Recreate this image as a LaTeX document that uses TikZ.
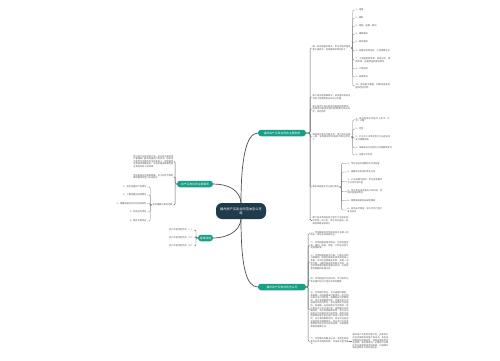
\documentclass[tikz,border=0pt]{standalone}
\usepackage{fontspec}
\setmainfont{Noto Sans CJK SC}
\XeTeXlinebreaklocale "zh"
\XeTeXlinebreakskip = 0pt plus 1pt
\definecolor{cdark}{HTML}{1F3C4C}
\definecolor{cteal}{HTML}{17A085}
\definecolor{txtc}{HTML}{555555}
\definecolor{lkc}{HTML}{5F6B6B}
\definecolor{mainc}{HTML}{4A4F52}
\tikzset{
  txt/.style={font=\fontsize{2.2}{2.6}\selectfont, text=txtc, inner sep=0.4pt, align=left},
  tw/.style={txt, text width=#1},
  central/.style={fill=cdark, text=white, rounded corners=6pt, minimum width=50pt, minimum height=16pt,
    font=\fontsize{3.2}{3.9}\selectfont, align=center, inner sep=1pt},
  teal/.style={fill=cteal, text=white, rounded corners=3pt, minimum height=6.5pt,
    font=\fontsize{2.8}{3}\selectfont, inner sep=1pt},
  lk/.style={draw=lkc, line width=0.45pt, rounded corners=1.2pt},
  sublk/.style={draw=lkc!85, line width=0.35pt, rounded corners=1pt},
  mainlk/.style={draw=mainc, line width=0.7pt},
}
\begin{document}
\begin{tikzpicture}[x=1pt,y=-1pt]
\useasboundingbox[fill=white] (0,0) rectangle (500,360);

% central and main branches
\node[central] (C) at (241,211) {福州房产买卖合同范本怎么写\\呢};
\node[teal, minimum width=48pt] (T1) at (282,133) {福州房产买卖合同的主要条款};
\node[teal, minimum width=36pt] (T2) at (195,184) {房产买卖合同注意事项};
\node[teal, minimum width=15pt] (T3) at (205.5,238) {延伸阅读};
\node[teal, minimum width=48pt] (T4) at (282,287) {福州房产买卖合同怎么写};

\draw[mainlk] (C.north) .. controls (241,160) and (246,133) .. (T1.west);
\draw[mainlk] (C.north) .. controls (240,190) and (228,184) .. (T2.east);
\draw[mainlk] (C.south) .. controls (240,232) and (226,238) .. (T3.east);
\draw[mainlk] (C.south) .. controls (241,265) and (246,287) .. (T4.west);

% ---------- T1 branch ----------
\node[tw=38pt, anchor=west] (A) at (312,48) {第一条房屋基本情况：甲方所售房屋坐落于福州市，该房屋具体情况如下：};
\node[tw=38pt, anchor=west] (B) at (312,97) {第二条房屋权属情况：该房屋所有权证书及土地使用权证书均已办理};
\node[tw=38pt, anchor=west] (Cc) at (312,109) {第三条甲乙双方就该房屋的租赁情况、抵押情况及其他权利限制情况作出约定，详见附件};
\node[tw=38pt, anchor=west] (D) at (312,137) {第四条价格与付款方式：甲乙双方协商一致，该房屋成交价格及付款方式如下：};
\node[txt, anchor=west] (E) at (312,187) {第五条房屋交付与违约责任};
\node[tw=38pt, anchor=west] (F) at (312,220.7) {第六条本合同自双方签字之日起生效，本合同一式三份，甲乙双方各执一份，具有同等法律效力};
\foreach \n in {A,B,Cc,D,E,F} \draw[lk] (T1.east) -- ++(4,0) |- (\n.west);

\node[txt, anchor=west] (a1) at (355,10) {1、坐落};
\node[txt, anchor=west] (a2) at (355,18) {2、面积};
\node[txt, anchor=west] (a3) at (355,26) {3、结构、层数、朝向};
\node[txt, anchor=west] (a4) at (355,34) {4、建筑面积};
\node[txt, anchor=west] (a5) at (355,42) {5、套内面积};
\node[txt, anchor=west] (a6) at (355,51) {6、房屋所有权证号、土地使用证号};
\node[tw=35pt, anchor=west] (a7) at (355,60) {7、土地使用权性质、取得方式、使用年限、房屋用途及其他情况};
\node[txt, anchor=west] (a8) at (355,69) {8、户型结构};
\node[txt, anchor=west] (a9) at (355,77) {9、装修情况};
\node[tw=35pt, anchor=west] (a10) at (355,86) {10、该房屋平面图、附属设施及房屋四至见附件};
\foreach \n in {a1,a2,a3,a4,a5,a6,a7,a8,a9,a10} \draw[sublk] (A.east) -- ++(1.6,0) |- (\n.west);

\node[tw=35pt, anchor=west] (d1) at (355,119.7) {1、该房屋成交价格为人民币（大写）元整};
\node[txt, anchor=west] (d2) at (355,129) {2、定金};
\node[tw=35pt, anchor=west] (d3) at (355,138) {3、乙方应于本合同签订之日起日内支付首期房款};
\node[txt, anchor=west] (d4) at (355,147.7) {4、余款按双方约定的方式及期限支付};
\node[txt, anchor=west] (d5) at (355,155) {5、付款方式约定};
\foreach \n in {d1,d2,d3,d4,d5} \draw[sublk] (D.east) -- ++(1.6,0) |- (\n.west);

\node[txt, anchor=west] (e1) at (347,163.3) {1、甲方应按约定期限交付该房屋};
\node[txt, anchor=west] (e2) at (347,172) {2、逾期交房的违约责任约定};
\node[tw=35pt, anchor=west] (e3) at (347,181.2) {3、乙方逾期付款的，甲方有权要求乙方支付违约金};
\node[tw=35pt, anchor=west] (e4) at (347,191.7) {4、甲方保证该房屋无产权纠纷，否则承担全部责任};
\node[txt, anchor=west] (e5) at (347,200.7) {5、税费按国家有关规定缴纳};
\node[tw=35pt, anchor=west] (e6) at (347,210) {6、其他未尽事宜，双方可另行签订补充协议};
\foreach \n in {e1,e2,e3,e4,e5,e6} \draw[sublk] (E.east) -- ++(2,0) |- (\n.west);

% ---------- T4 branch ----------
\node[tw=38pt, anchor=west] (g1) at (310,233.5) {一、合同首部应写明买卖双方当事人的姓名、身份证号码及住址。};
\node[tw=38pt, anchor=west] (g2) at (310,245.5) {二、写明房屋的基本情况，包括房屋坐落、面积、结构、用途、产权证号及土地使用权等。};
\node[tw=38pt, anchor=west] (g3) at (310,262) {三、写明房屋的成交价格、付款方式和付款期限。房屋价款是买卖合同的核心条款，双方应当明确总价款，采用一次性付款、分期付款或者贷款方式的，应当写明每期付款的金额与时间，以及定金的数额和处理方式。};
\node[tw=38pt, anchor=west] (g4) at (310,280) {四、写明房屋交付的时间、交付条件以及办理产权过户登记手续的期限。};
\node[tw=38pt, anchor=west] (g5) at (310,309.5) {五、写明违约责任。买方逾期付款的，每逾期一日应按照未付款项的一定比例向卖方支付违约金；逾期超过约定期限的，卖方有权解除合同，并要求买方承担相应的违约责任。卖方逾期交付房屋的，每逾期一日应按照已付房款的一定比例向买方支付违约金；逾期超过约定期限的，买方有权解除合同，卖方应当退还已付房款并支付违约金。因卖方原因导致房屋不能办理产权过户登记手续的，买方有权解除合同，卖方应当返还全部房款并赔偿损失。双方还可以约定税费的承担方式以及物业费、水电费等费用的结算办法。};
\node[tw=38pt, anchor=west] (g6) at (310,341.5) {六、写明争议的解决方式、合同生效的条件以及合同的份数，并由双方签字确认。};
\foreach \n in {g1,g2,g3,g4,g5,g6} \draw[lk] (T4.east) -- ++(2,0) |- (\n.west);
\node[tw=36pt, anchor=west] (g6a) at (352,341.5) {福州房产买卖合同签订时，买卖双方应当仔细核实房屋产权证书、身份证明等材料的真实性，查询房屋是否存在抵押、查封等情况，必要时可以委托专业律师审查合同条款，以保障交易安全和双方的合法权益。};
\draw[sublk] (g6.east) -- (g6a.west);

% ---------- T2 branch ----------
\node[tw=40pt, anchor=east] (p1) at (174,161.5) {签订房产买卖合同之前，买方应当到房地产管理部门查询房屋的产权状况，核实卖方是否为房屋的合法所有权人，房屋是否设有抵押或被查封，共有房屋出售是否经过其他共有人的同意。};
\node[tw=40pt, anchor=east] (p2) at (174,176.7) {合同条款应当具体明确，对于约定不明的事项要及时签订补充协议。};
\node[txt, anchor=east] (p3) at (173,205) {买房需要注意的问题};
\foreach \n in {p1,p2,p3} \draw[lk] (T2.west) -- ++(-1.6,0) |- (\n.east);

\node[txt, anchor=east] (q1) at (147,187) {1、核实房屋的产权情况};
\node[txt, anchor=east] (q2) at (147,195) {2、了解房屋的抵押情况};
\node[txt, anchor=east] (q3) at (147,203.5) {3、明确房屋的交付时间和条件};
\node[txt, anchor=east] (q4) at (147,212) {4、约定违约责任};
\node[txt, anchor=east] (q5) at (147,221) {5、保存交易凭证};
\foreach \n in {q1,q2,q3,q4,q5} \draw[sublk] (p3.west) -- ++(-1.8,0) |- (\n.east);

% ---------- T3 branch ----------
\node[txt, anchor=east] (r1) at (194,230) {房产买卖合同范本（一）};
\node[txt, anchor=east] (r2) at (194,238) {房产买卖合同范本（二）};
\node[txt, anchor=east] (r3) at (194,246) {房产买卖合同范本（三）};
\foreach \n in {r1,r2,r3} \draw[lk] (T3.west) -- ++(-1.8,0) |- (\n.east);
\end{tikzpicture}
\end{document}
